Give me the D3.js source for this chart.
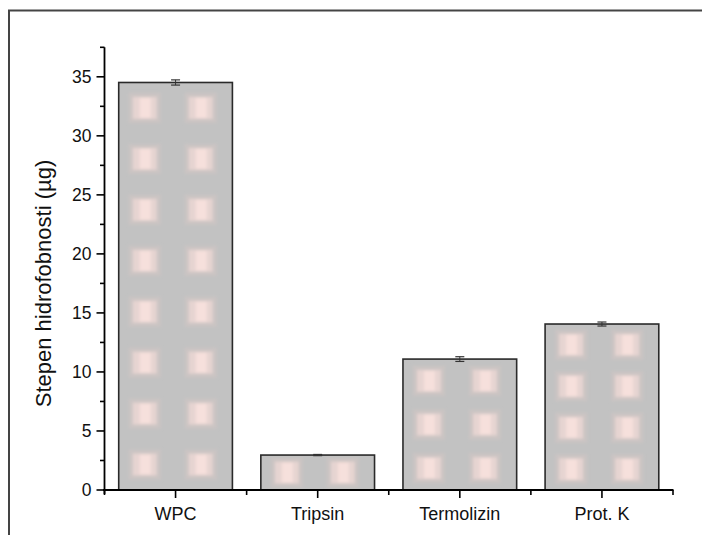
<!DOCTYPE html>
<html><head><meta charset="utf-8">
<script src="https://cdn.jsdelivr.net/npm/d3@7"></script>
<style>body{margin:0;background:#fff;}svg{display:block;font-family:"Liberation Sans",Arial,sans-serif;}</style>
</head><body>
<svg id="c" width="702" height="535"></svg>
<script>
const categories = ["WPC", "Tripsin", "Termolizin", "Prot. K"];
const values = [34.52, 2.96, 11.09, 14.06];
const errors = [0.22, 0.05, 0.2, 0.17];
const yMajorTicks = [0, 5, 10, 15, 20, 25, 30, 35];
const yMinorTicks = [2.5, 7.5, 12.5, 17.5, 22.5, 27.5, 32.5, 37.5];
const yLabel = "Stepen hidrofobnosti (µg)";

const svg = d3.select("#c");
const W = 702, H = 535;
const x = d3.scaleBand().domain(categories).range([104.5, 673]).paddingInner(0.2).paddingOuter(0.1);
const y = d3.scaleLinear().domain([0, 37.5]).range([490, 47.3]);

const defs = svg.append("defs");
defs.append("filter").attr("id", "soft").append("feGaussianBlur").attr("stdDeviation", 1.6);

// outer frame (left + top visible)
svg.append("path").attr("d", `M9,${H} V10.5 H${W}`).attr("fill", "none").attr("stroke", "#444").attr("stroke-width", 2);

// bars
const g = svg.append("g");
categories.forEach((c, i) => {
  const bx = x(c), bw = x.bandwidth(), top = y(values[i]), bot = y(0), h = bot - top;
  g.append("rect").attr("x", bx).attr("y", top).attr("width", bw).attr("height", h)
    .attr("fill", "#c2c2c2");
  // texture squares
  const tex = g.append("g").attr("filter", "url(#soft)");
  const n = Math.max(1, Math.ceil(h / 52));
  const slot = h / n;
  for (let r = 0; r < n; r++) {
    const cy = bot - slot * (r + 0.5);
    [26, 82].forEach(off => {
      const cx = bx + off;
      tex.append("rect").attr("x", cx - 16).attr("y", cy - 15).attr("width", 32).attr("height", 30)
        .attr("fill", "#cbc4c3");
      tex.append("rect").attr("x", cx - 12).attr("y", cy - 11).attr("width", 24).attr("height", 22)
        .attr("fill", "#e6d4d1");
      tex.append("rect").attr("x", cx - 5).attr("y", cy - 10).attr("width", 11).attr("height", 20)
        .attr("fill", "#f6e0dc");
    });
  }
  g.append("rect").attr("x", bx).attr("y", top).attr("width", bw).attr("height", h)
    .attr("fill", "none").attr("stroke", "#2a2a2a").attr("stroke-width", 1.6);
  // error bar
  const cx = bx + bw / 2;
  const e1 = y(values[i] + errors[i]), e0 = y(values[i] - errors[i]);
  g.append("line").attr("x1", cx).attr("x2", cx).attr("y1", e1).attr("y2", e0).attr("stroke", "#333").attr("stroke-width", 1);
  [e1, e0].forEach(yy => g.append("line").attr("x1", cx - 4.5).attr("x2", cx + 4.5).attr("y1", yy).attr("y2", yy).attr("stroke", "#333").attr("stroke-width", 1.2));
});

// y axis
const yAxis = svg.append("g").attr("transform", "translate(104.5,0)");
yAxis.append("line").attr("x1", 0).attr("x2", 0).attr("y1", y(37.5)).attr("y2", y(0) + 4).attr("stroke", "#000").attr("stroke-width", 1.8);
yAxis.selectAll(".maj").data(yMajorTicks).join("line").attr("class", "maj").attr("x1", -8).attr("x2", 0)
  .attr("y1", d => y(d)).attr("y2", d => y(d)).attr("stroke", "#000").attr("stroke-width", 1.6);
yAxis.selectAll(".min").data(yMinorTicks).join("line").attr("class", "min").attr("x1", -4.5).attr("x2", 0)
  .attr("y1", d => y(d)).attr("y2", d => y(d)).attr("stroke", "#000").attr("stroke-width", 1.6);
yAxis.selectAll("text").data(yMajorTicks).join("text").attr("x", -13).attr("y", d => y(d)).attr("dy", "0.36em")
  .attr("text-anchor", "end").attr("font-size", 17.5).attr("fill", "#111").text(d => d);

// x axis
const xAxis = svg.append("g");
xAxis.append("line").attr("x1", 103).attr("x2", 673.5).attr("y1", y(0)).attr("y2", y(0)).attr("stroke", "#000").attr("stroke-width", 1.8);
const bounds = [x.range()[0]].concat(categories.map(c => x(c) - x.step() * x.paddingInner() / 2).slice(1), [x.range()[1]]);
xAxis.selectAll(".min").data(bounds).join("line").attr("class", "min").attr("x1", d => d).attr("x2", d => d)
  .attr("y1", y(0)).attr("y2", y(0) + 5).attr("stroke", "#000").attr("stroke-width", 1.6);
xAxis.selectAll(".maj").data(categories).join("line").attr("class", "maj")
  .attr("x1", d => x(d) + x.bandwidth() / 2).attr("x2", d => x(d) + x.bandwidth() / 2)
  .attr("y1", y(0)).attr("y2", y(0) + 8).attr("stroke", "#000").attr("stroke-width", 1.6);
xAxis.selectAll("text").data(categories).join("text").attr("x", d => x(d) + x.bandwidth() / 2).attr("y", 520)
  .attr("text-anchor", "middle").attr("font-size", 18).attr("fill", "#111").text(d => d);

// y label
svg.append("text").attr("transform", "translate(51,283.5) rotate(-90)").attr("text-anchor", "middle")
  .attr("font-size", 22).attr("fill", "#111").text(yLabel);
</script>
</body></html>
